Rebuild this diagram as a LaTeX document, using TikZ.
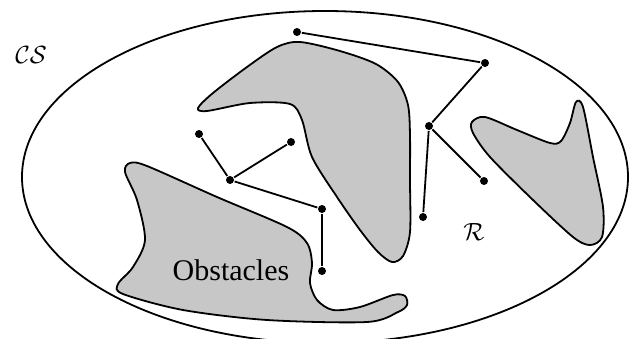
\documentclass[tikz,border=0pt]{standalone}
\usepackage{amsmath,amssymb}
\usepackage{fontspec}
\setmainfont{Liberation Serif}

\begin{document}
\begin{tikzpicture}[x=1pt,y=-1pt,line width=1.8pt,
  conf/.style={circle,fill,inner sep=0pt,minimum size=8pt},
  obstacle/.style={draw,fill=black!22,line width=1.8pt},
  big/.style={font=\fontsize{30}{35}\selectfont}]
\useasboundingbox (0,0) rectangle (630,338);
\draw (325,177) ellipse [x radius=303,y radius=166];
\draw[obstacle] plot[smooth cycle] coordinates {(198,108) (213,93) (247,67) (277,47) (300,42) (340,51) (376,64) (398,82) (408,105) (410,135) (410,180) (410,232) (403,256) (392,262) (378,252) (360,230) (337,197) (312,157) (302,120) (290,104) (250,103) (207,111)};
\draw[obstacle] plot[smooth cycle] coordinates {(130,163) (147,166) (217,197) (287,227) (307,243) (312,263) (310,283) (317,300) (333,310) (360,307) (393,295) (405,296) (407,305) (398,312) (367,322) (267,320) (183,310) (123,294) (118,284) (133,267) (145,240) (137,200) (125,172)};
\draw[obstacle] plot[smooth cycle] coordinates {(472,122) (485,117) (517,130) (550,143) (561,141) (570,123) (576,102) (583,107) (593,157) (603,207) (602,237) (590,245) (573,237) (533,200) (490,157) (473,133)};
\node[big,anchor=base] (cs) at (31,63) {$\mathcal{CS}$};
\node[big,anchor=base] (r) at (474,240) {$\mathcal{R}$};
\node[big,anchor=base] (obs) at (231,280) {Obstacles};
\node[conf] (q1) at (297,32) {};
\node[conf] (q2) at (485,63) {};
\node[conf] (q3) at (429,126) {};
\node[conf] (q4) at (484,181) {};
\node[conf] (q5) at (423,217) {};
\node[conf] (q6) at (199,134) {};
\node[conf] (q7) at (291,142) {};
\node[conf] (q8) at (230,180) {};
\node[conf] (q9) at (322,209) {};
\node[conf] (q10) at (322,271) {};
\draw (q1)--(q2);\draw (q2)--(q3);\draw (q3)--(q4);\draw (q3)--(q5);
\draw (q6)--(q8);\draw (q7)--(q8);\draw (q8)--(q9);\draw (q9)--(q10);
\end{tikzpicture}
\end{document}
